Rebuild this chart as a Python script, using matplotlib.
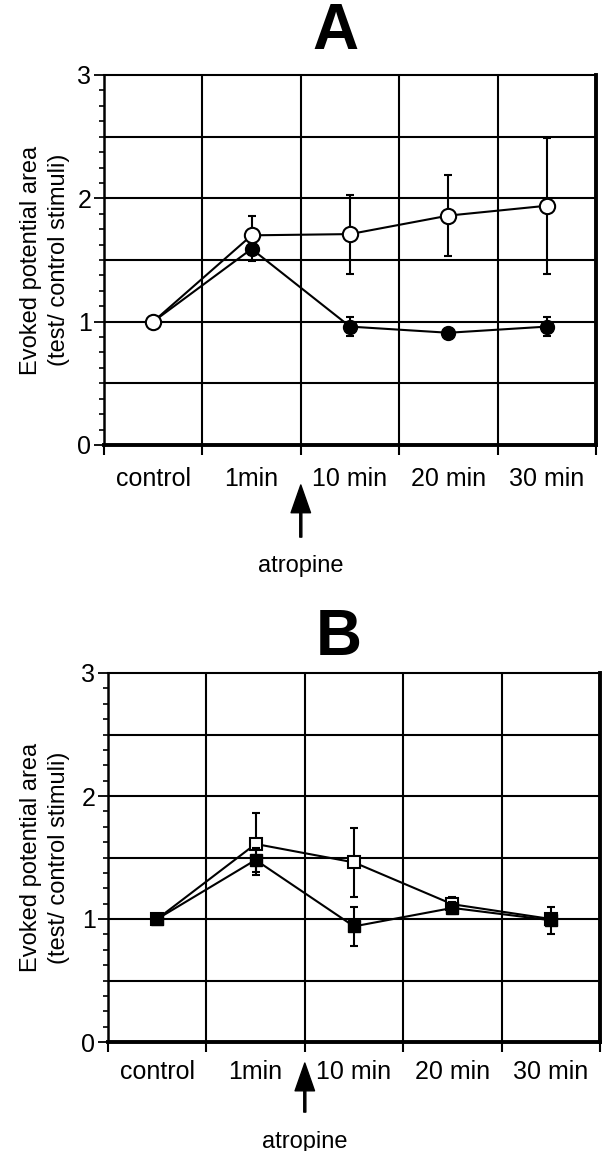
import numpy as np
import matplotlib.pyplot as plt
from matplotlib.ticker import MultipleLocator, FixedLocator

plt.rcParams['font.family'] = ['Liberation Sans', 'DejaVu Sans']

# categories along the x axis (one per column)
categories = ['control', '1min', '10 min', '20 min', '30 min']

# panel A (circles)
a_open = [1.0, 1.70, 1.71, 1.86, 1.94]
a_open_err = [0, 0.16, 0.32, 0.33, 0.55]
a_filled = [1.0, 1.59, 0.96, 0.91, 0.96]
a_filled_err = [0, 0.10, 0.08, 0, 0.08]

# panel B (squares)
b_open = [1.0, 1.61, 1.46, 1.12, 1.0]
b_open_err = [0, 0.25, 0.28, 0.06, 0]
b_filled = [1.0, 1.48, 0.94, 1.09, 0.99]
b_filled_err = [0, 0.10, 0.16, 0.05, 0.11]

fig = plt.figure(figsize=(6.05, 11.51), dpi=100)
W, H = 605, 1151


def px_axes(left, top, right, bottom):
    return fig.add_axes([left / W, 1 - bottom / H, (right - left) / W, (bottom - top) / H])


def setup(ax):
    ax.set_xlim(0, 5)
    ax.set_ylim(0, 3)
    # grid drawn as plain lines
    for y in [0.5, 1, 1.5, 2, 2.5]:
        ax.axhline(y, color='black', lw=1.5, zorder=1)
    for x in [1, 2, 3, 4]:
        ax.axvline(x, color='black', lw=1.5, zorder=1)
    ax.yaxis.set_major_locator(MultipleLocator(1))
    ax.yaxis.set_minor_locator(MultipleLocator(0.125))
    ax.tick_params(axis='y', which='major', length=7, width=1.3, labelsize=18, pad=2)
    ax.tick_params(axis='y', which='minor', length=3.5, width=1.2)
    ax.xaxis.set_major_locator(FixedLocator([0, 1, 2, 3, 4, 5]))
    ax.xaxis.set_major_formatter(plt.NullFormatter())
    ax.xaxis.set_minor_locator(FixedLocator(np.arange(len(categories)) + 0.5))
    ax.set_xticklabels(categories, minor=True)
    ax.tick_params(axis='x', which='major', length=7, width=1.5)
    ax.tick_params(axis='x', which='minor', length=0, labelsize=18, pad=16)
    ax.spines['top'].set_linewidth(1.5)
    ax.spines['left'].set_linewidth(1.8)
    ax.spines['bottom'].set_linewidth(2.8)
    ax.spines['right'].set_linewidth(2.8)
    ax.set_ylabel('Evoked potential area\n(test/ control stimuli)', fontsize=17, linespacing=1.35)


xs = np.arange(len(categories)) + 0.5

# ---- panel A ----
axA = px_axes(104, 75, 596, 445)
setup(axA)
axA.yaxis.set_label_coords(-0.07, 0.5)
axA.errorbar(xs, a_filled, yerr=a_filled_err, fmt='-o', color='black', mfc='black', mec='black',
             ms=10, lw=1.5, elinewidth=1.5, capsize=3, capthick=1.5, zorder=3)
axA.errorbar(xs, a_open, yerr=a_open_err, fmt='-o', color='black', mfc='white', mec='black',
             mew=1.5, ms=11, lw=1.5, elinewidth=1.5, capsize=3, capthick=1.5, zorder=4)
fig.text(335 / W, 1 - 32 / H, 'A', fontsize=46, fontweight='bold', ha='center', va='center')
axA.annotate('', xy=(2, -0.108), xytext=(2, -0.249), xycoords=('data', 'axes fraction'),
             textcoords=('data', 'axes fraction'), annotation_clip=False,
             arrowprops=dict(facecolor='black', edgecolor='black', width=1.5,
                             headwidth=14, headlength=20, shrink=0))
axA.text(2, -0.328, 'atropine', transform=axA.get_xaxis_transform(), fontsize=17,
         ha='center', va='center')

# ---- panel B ----
axB = px_axes(108, 673, 600, 1042)
setup(axB)
axB.yaxis.set_label_coords(-0.078, 0.5)
axB.tick_params(axis='x', which='minor', pad=13)
axB.errorbar(xs, b_open, yerr=b_open_err, fmt='-s', color='black', mfc='white', mec='black',
             mew=1.5, ms=8, lw=1.5, elinewidth=1.5, capsize=3, capthick=1.5, zorder=3)
axB.errorbar(xs, b_filled, yerr=b_filled_err, fmt='-s', color='black', mfc='black', mec='black',
             ms=9, lw=1.5, elinewidth=1.5, capsize=3, capthick=1.5, zorder=4)
fig.text(339 / W, 1 - 638 / H, 'B', fontsize=46, fontweight='bold', ha='center', va='center')
axB.annotate('', xy=(2, -0.057), xytext=(2, -0.19), xycoords=('data', 'axes fraction'),
             textcoords=('data', 'axes fraction'), annotation_clip=False,
             arrowprops=dict(facecolor='black', edgecolor='black', width=1.5,
                             headwidth=14, headlength=20, shrink=0))
axB.text(2, -0.27, 'atropine', transform=axB.get_xaxis_transform(), fontsize=17,
         ha='center', va='center')

fig.savefig('out.png', dpi=100)
